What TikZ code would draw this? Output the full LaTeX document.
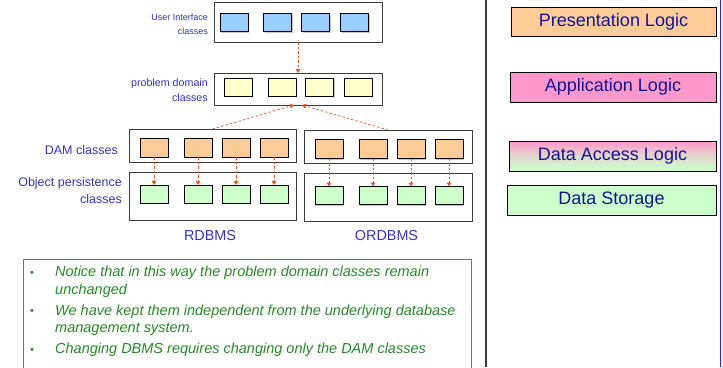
\documentclass[tikz,border=0pt]{standalone}
\usepackage{fontspec}
\setmainfont{Liberation Sans}
\usetikzlibrary{arrows.meta,shadows}

\definecolor{uiblue}{RGB}{153,204,255}
\definecolor{pdyellow}{RGB}{255,255,204}
\definecolor{damorange}{RGB}{255,204,153}
\definecolor{persgreen}{RGB}{204,255,204}
\definecolor{apppink}{RGB}{255,153,204}
\definecolor{labelblue}{RGB}{51,51,187}
\definecolor{tierblue}{RGB}{20,20,150}
\definecolor{linkred}{RGB}{225,85,35}
\definecolor{notegreen}{RGB}{40,135,40}
\definecolor{boxgreen}{RGB}{60,150,60}
\definecolor{framegray}{RGB}{60,60,60}
\definecolor{railblue}{RGB}{40,40,230}

\tikzset{
  outerbox/.style={draw=framegray, line width=1pt, fill=white, inner sep=0, outer sep=0},
  clsbox/.style={draw=black, line width=0.8pt, inner sep=0, outer sep=0,
    minimum width=28pt, minimum height=18pt,
    drop shadow={shadow xshift=1pt, shadow yshift=-1pt, opacity=0.45, fill=gray}},
  uicls/.style={clsbox, fill=uiblue},
  pdcls/.style={clsbox, fill=pdyellow},
  damcls/.style={clsbox, fill=damorange, minimum height=19pt},
  perscls/.style={clsbox, fill=persgreen, minimum height=18pt},
  link/.style={draw=linkred, line width=0.7pt, dash pattern=on 2.5pt off 2pt,
    -{Triangle[length=4pt,width=4.5pt]}},
  lbl/.style={text=labelblue, align=right, anchor=east, inner sep=0},
  dbname/.style={text=labelblue, font=\fontsize{14.4}{17}\selectfont, inner sep=0},
  tier/.style={draw=black, line width=0.8pt, inner sep=0, outer sep=0,
    minimum height=30pt, text=tierblue, font=\fontsize{18}{21}\selectfont,
    drop shadow={shadow xshift=1.2pt, shadow yshift=-1.2pt, opacity=0.5, fill=gray}},
  note/.style={text=notegreen, font=\fontsize{14.5}{17.5}\selectfont\itshape,
    align=left, anchor=base west, inner sep=0},
  bullet/.style={text=notegreen, font=\fontsize{11}{12}\selectfont, anchor=base, inner sep=0}
}

\begin{document}
\begin{tikzpicture}[x=1pt, y=-1pt]
\useasboundingbox (0,0) rectangle (723,367);

% ---------- user interface layer ----------
\node[outerbox, minimum width=168pt, minimum height=40pt] (ui) at (298,22) {};
\node[uicls] (ui1) at (234,22.5) {};
\node[uicls] (ui2) at (277.5,22.5) {};
\node[uicls] (ui3) at (315.5,22.5) {};
\node[uicls] (ui4) at (354.5,22.5) {};
\node[lbl, font=\fontsize{9}{14}\selectfont] (uilbl) at (208,24) {User Interface\\classes};

% ---------- problem domain layer ----------
\node[outerbox, minimum width=168pt, minimum height=32pt] (pd) at (298,89) {};
\node[pdcls] (pd1) at (238,87) {};
\node[pdcls] (pd2) at (282,87) {};
\node[pdcls] (pd3) at (319.5,87) {};
\node[pdcls] (pd4) at (358,87) {};
\node[lbl, font=\fontsize{10.7}{15}\selectfont] (pdlbl) at (208,90.5) {problem domain\\classes};

% ---------- RDBMS column ----------
\node[outerbox, minimum width=167pt, minimum height=33pt] (rdam) at (212.5,145.5) {};
\node[outerbox, minimum width=167pt, minimum height=48pt] (rper) at (212.5,196) {};
\foreach \i/\x in {1/154, 2/198, 3/236, 4/274} {
  \node[damcls] (rd\i) at (\x,147.5) {};
  \node[perscls] (rp\i) at (\x,194) {};
  \draw[link] (rd\i.south) -- (rp\i.north);
}
\node[dbname] (rdb) at (210,236) {RDBMS};

% ---------- ORDBMS column ----------
\node[outerbox, minimum width=168pt, minimum height=33pt] (odam) at (388,146.5) {};
\node[outerbox, minimum width=168pt, minimum height=48pt] (oper) at (388,197) {};
\foreach \i/\x in {1/329, 2/373, 3/411, 4/449} {
  \node[damcls] (od\i) at (\x,149) {};
  \node[perscls] (op\i) at (\x,195.5) {};
  \draw[link] (od\i.south) -- (op\i.north);
}
\node[dbname] (odb) at (386.5,236) {ORDBMS};

\node[lbl, font=\fontsize{12.5}{15}\selectfont] (damlbl) at (118,150) {DAM classes};
\node[lbl, font=\fontsize{12.5}{17}\selectfont] (perlbl) at (122,191) {Object persistence\\classes};

% ---------- dependencies between layers ----------
\draw[link] (ui.south) -- (pd.north);
\draw[link] (rdam.north) -- ([xshift=-4pt]pd.south);
\draw[link] (odam.north) -- ([xshift=4pt]pd.south);

% ---------- notes (base anchor sits on the last line of each item) ----------
\draw[boxgreen, line width=0.9pt] (23,370) -- (23,259) -- (471,259) -- (471,370);
\node[bullet] (b1) at (32,276.5) {•};
\node[note] (n1) at (55,294) {Notice that in this way the problem domain classes remain\\unchanged};
\node[bullet] (b2) at (32,314.5) {•};
\node[note] (n2) at (55,332.5) {We have kept them independent from the underlying database\\management system.};
\node[bullet] (b3) at (32,353.5) {•};
\node[note] (n3) at (55,353.5) {Changing DBMS requires changing only the DAM classes};

% ---------- tier panel ----------
\draw[framegray, line width=1.3pt] (486,0) -- (486,367);
\draw[railblue, line width=1.2pt] (720.5,0) -- (720.5,367);
\node[tier, fill=damorange, minimum width=205pt, minimum height=29pt] (pres) at (613.5,21.5) {Presentation Logic};
\node[tier, fill=apppink, minimum width=206pt] (app) at (613,87) {Application Logic};
\node[tier, top color=apppink, bottom color=persgreen, middle color=persgreen!60!apppink,
      minimum width=207pt] (dal) at (612.5,156) {Data Access Logic};
\node[tier, fill=persgreen, minimum width=209pt] (store) at (611.5,200) {Data Storage};
\end{tikzpicture}
\end{document}
